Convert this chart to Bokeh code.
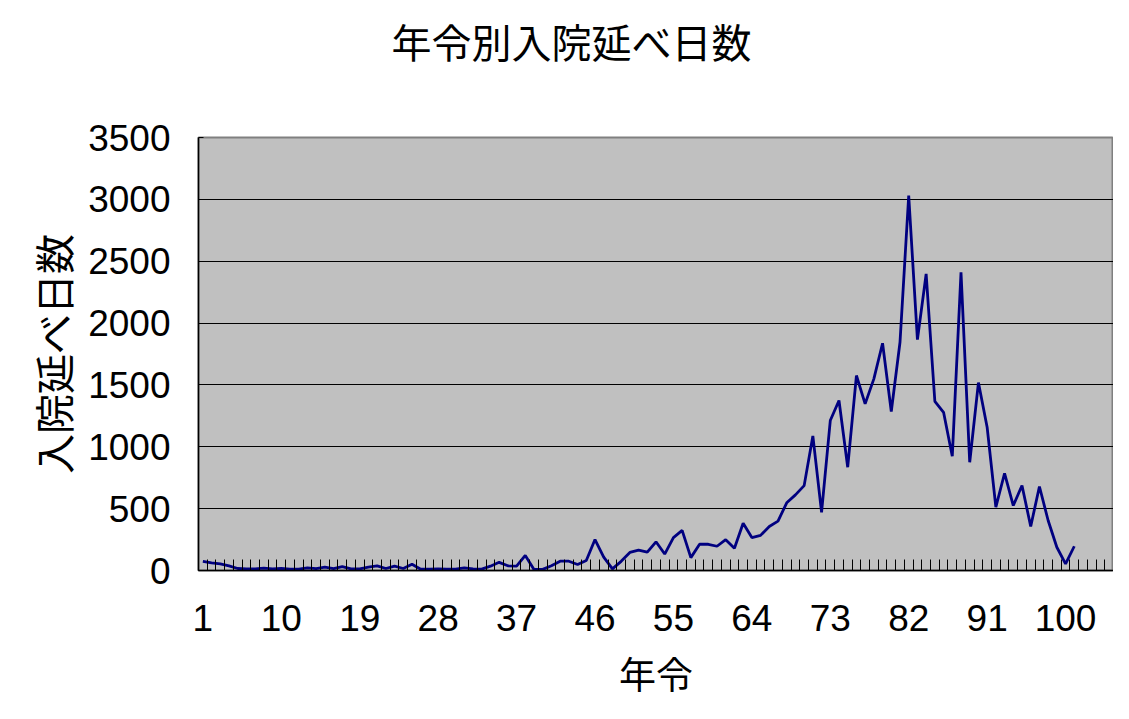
from bokeh.plotting import figure
from bokeh.models import FixedTicker, Range1d, ColumnDataSource, Title
from bokeh.embed import file_html
from bokeh.resources import INLINE

# ---- data ----
ages = list(range(1, 102))
days = [73, 62, 54, 38, 16, 13, 13, 19, 13, 16,
        11, 11, 22, 16, 27, 16, 32, 13, 13, 27,
        38, 16, 35, 16, 51, 10, 11, 13, 11, 11,
        22, 13, 11, 35, 66, 38, 35, 122, 9, 9,
        39, 75, 75, 48, 81, 250, 108, 13, 74, 146,
        165, 148, 232, 133, 266, 324, 104, 212, 212, 196,
        249, 180, 382, 266, 284, 356, 399, 547, 611, 686,
        1088, 470, 1212, 1374, 835, 1576, 1347, 1549, 1837, 1285,
        1845, 3030, 1866, 2397, 1368, 1279, 924, 2410, 875, 1519,
        1158, 512, 786, 525, 687, 356, 679, 404, 188, 54,
        196]
x_tick_labels = [1, 10, 19, 28, 37, 46, 55, 64, 73, 82, 91, 100]
y_ticks = [0, 500, 1000, 1500, 2000, 2500, 3000, 3500]
n_categories = 105

title_text = "年令別入院延べ日数"
x_label = "年令"
y_label = "入院延べ日数"

CJK = "Noto Sans CJK JP"
NUM = "Liberation Sans"

source = ColumnDataSource(data=dict(age=ages, days=days))

p = figure(width=1113, height=703, output_backend="svg", toolbar_location=None,
           x_range=Range1d(0.5, n_categories + 0.5), y_range=Range1d(0, 3500),
           min_border_left=198, min_border_right=0, min_border_top=137,
           min_border_bottom=133, title=title_text)

p.background_fill_color = "#C0C0C0"
p.border_fill_color = "white"
p.outline_line_color = "#808080"
p.outline_line_width = 2

# spacer between frame and title
p.add_layout(Title(text=" ", text_font_size="10px", standoff=50), "above")

# title
p.title.text_font = CJK
p.title.text_font_size = "40px"
p.title.text_font_style = "normal"
p.title.text_color = "black"
p.title.align = "left"
p.title.offset = 193
p.title.standoff = 10

# line
p.line("age", "days", source=source, line_color="#000080", line_width=2.8)

# x axis
xa = p.xaxis[0]
xa.ticker = FixedTicker(ticks=x_tick_labels,
                        minor_ticks=[i + 0.5 for i in range(0, n_categories + 1)])
xa.major_tick_in = 0
xa.major_tick_out = 0
xa.minor_tick_in = 11
xa.minor_tick_out = 0
xa.minor_tick_line_color = "black"
xa.axis_line_color = "black"
xa.axis_line_width = 1.5
xa.major_label_text_font = NUM
xa.major_label_text_font_size = "37px"
xa.major_label_text_color = "black"
xa.major_label_standoff = 34
xa.axis_label = x_label
xa.axis_label_text_font = CJK
xa.axis_label_text_font_size = "37px"
xa.axis_label_text_font_style = "normal"
xa.axis_label_text_color = "black"
xa.axis_label_standoff = 12

# y axis
ya = p.yaxis[0]
ya.ticker = FixedTicker(ticks=y_ticks, minor_ticks=[])
ya.major_tick_in = 5
ya.major_tick_out = 0
ya.axis_line_color = "black"
ya.axis_line_width = 1.5
ya.major_label_text_font = NUM
ya.major_label_text_font_size = "37px"
ya.major_label_text_color = "black"
ya.major_label_standoff = 28
ya.axis_label = y_label
ya.axis_label_text_font = CJK
ya.axis_label_text_font_size = "40px"
ya.axis_label_text_font_style = "normal"
ya.axis_label_text_color = "black"
ya.axis_label_standoff = 3

p.xgrid.grid_line_color = None
p.ygrid.grid_line_color = "black"
p.ygrid.grid_line_width = 1
p.ygrid.grid_line_alpha = 1

open("out.html", "w").write(file_html(p, INLINE))
